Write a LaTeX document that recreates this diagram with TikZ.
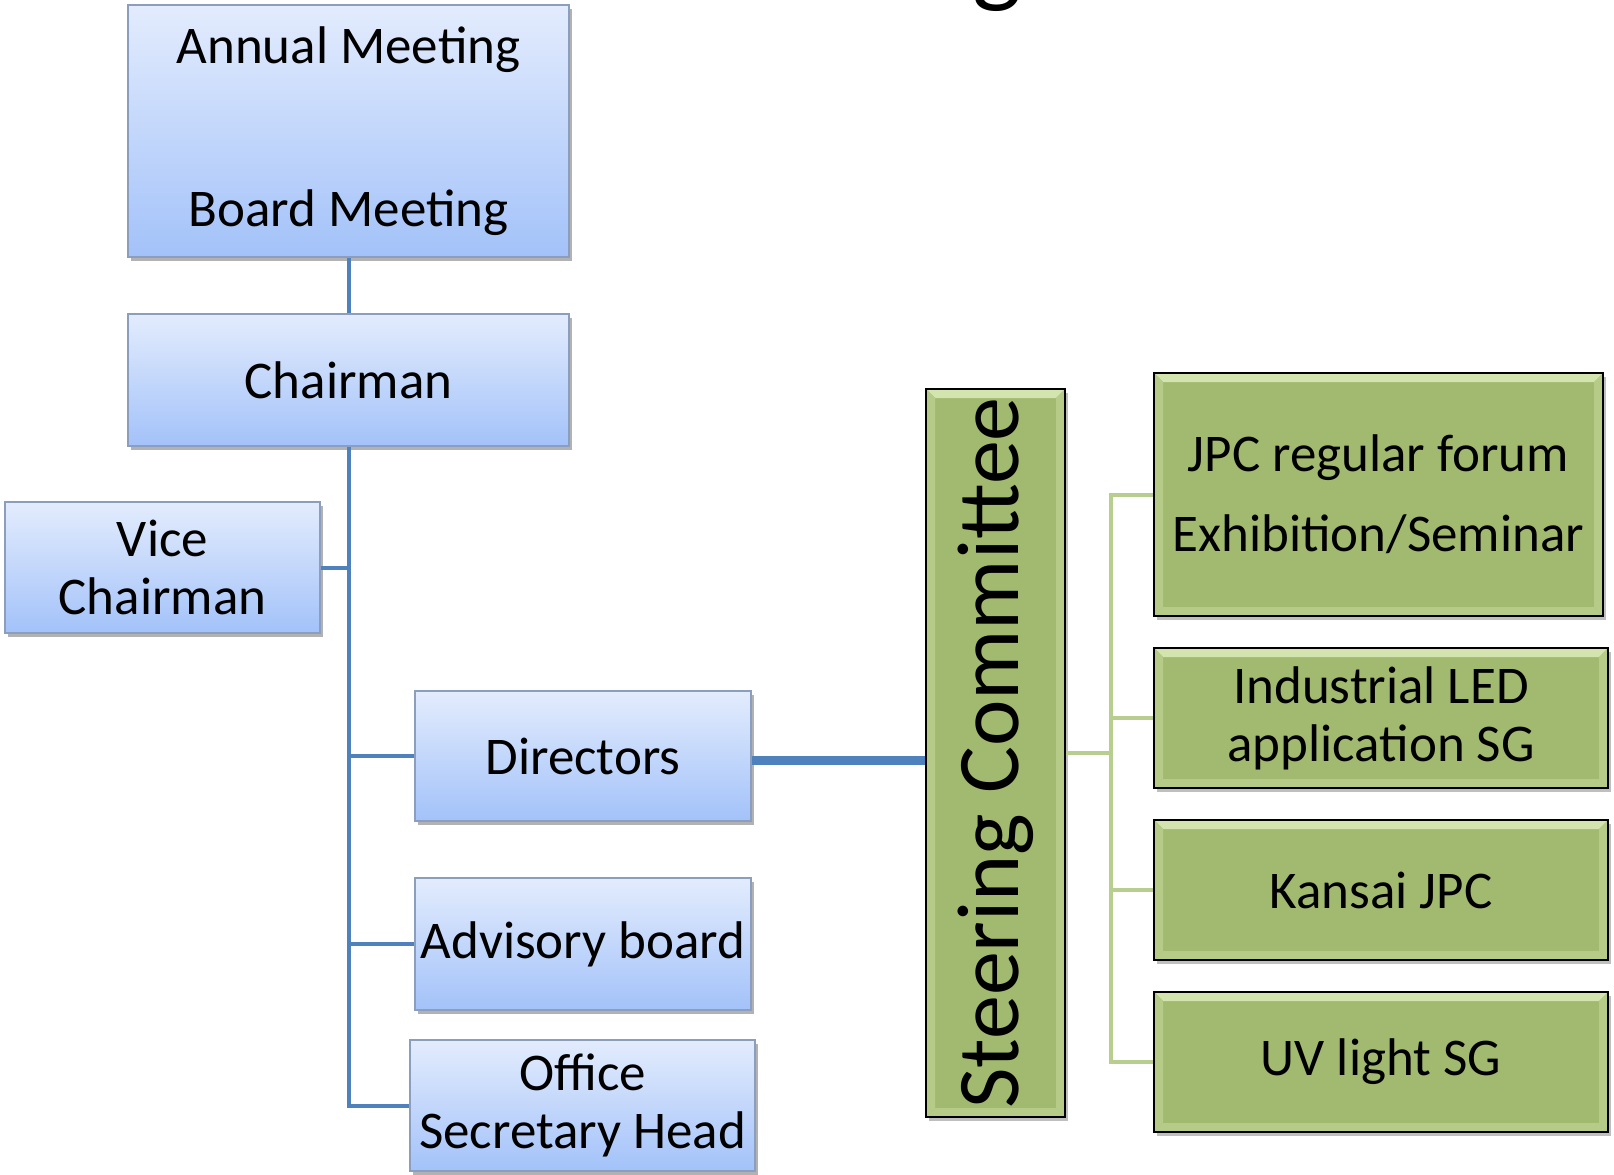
\documentclass[tikz,border=0pt]{standalone}
\usepackage{fontspec}
\setmainfont{Carlito}
\usetikzlibrary{positioning, % For easy node-relative placements
                shadows,     % For the soft box shadows
                calc,        % For the bevel corners
               }

\definecolor{blueTop}{RGB}{227,236,253}
\definecolor{blueBot}{RGB}{163,194,249}
\definecolor{blueEdge}{RGB}{140,158,190}
\definecolor{blueLine}{RGB}{79,129,189}
\definecolor{greenFill}{RGB}{162,185,112}
\definecolor{greenTop}{RGB}{212,228,175}
\definecolor{greenSide}{RGB}{182,203,136}
\definecolor{greenLine}{RGB}{184,206,142}

\tikzset{
  txt/.style={font=\fontsize{53}{58}\selectfont},
  bluebox/.style={txt, draw=blueEdge, line width=1.5pt, top color=blueTop,
    bottom color=blueBot, align=center, inner sep=0pt,
    drop shadow={shadow xshift=3pt, shadow yshift=-4pt, opacity=0.3, fill=black}},
  bevel/.style={path picture={
    \path (path picture bounding box.north west) coordinate (bnw)
          (path picture bounding box.north east) coordinate (bne)
          (path picture bounding box.south east) coordinate (bse)
          (path picture bounding box.south west) coordinate (bsw);
    \fill[greenTop] (bnw) -- (bne) -- ($(bne)+(-9pt,-9pt)$) -- ($(bnw)+(9pt,-9pt)$) -- cycle;
    \fill[greenSide] (bnw) -- ($(bnw)+(9pt,-9pt)$) -- ($(bsw)+(9pt,9pt)$) -- (bsw) -- cycle;
    \fill[greenSide] (bne) -- ($(bne)+(-9pt,-9pt)$) -- ($(bse)+(-9pt,9pt)$) -- (bse) -- cycle;
    \fill[greenSide] (bsw) -- ($(bsw)+(9pt,9pt)$) -- ($(bse)+(-9pt,9pt)$) -- (bse) -- cycle;
  }},
  greenbox/.style={txt, draw=black, line width=2pt, fill=greenFill, bevel,
    align=center, inner sep=0pt,
    drop shadow={shadow xshift=3pt, shadow yshift=-4pt, opacity=0.25, fill=black}},
  blueconn/.style={draw=blueLine, line width=4pt},
  greenconn/.style={draw=greenLine, line width=4pt},
}

\begin{document}
\begin{tikzpicture}[x=1pt, y=-1pt] % pixel coordinates, y downwards
  \useasboundingbox (0,0) rectangle (1614,1175);
  \clip (0,0) rectangle (1614,1175);

  \node[anchor=base, font=\fontsize{105}{105}\selectfont] (title) at (997,-6) {g};

  % left column
  \node[bluebox, minimum width=441pt, minimum height=252pt] (meet) at (348.5,131)
    {Annual Meeting\\[105pt]Board Meeting};
  \node[bluebox, minimum width=441pt, minimum height=132pt] (chair) at (348.5,380) {Chairman};
  \node[bluebox, minimum width=315pt, minimum height=131pt] (vice) at (162.5,567.5) {Vice\\Chairman};
  \node[bluebox, minimum width=336pt, minimum height=130pt] (dir) at (583,756) {Directors};
  \node[bluebox, minimum width=336pt, minimum height=132pt] (adv) at (583,944) {Advisory board};
  \node[bluebox, minimum width=345pt, minimum height=131pt] (office) at (582.5,1105.5)
    {Office\\Secretary Head};

  % right part
  \node[greenbox, minimum width=139pt, minimum height=728pt] (steer) at (995.5,753)
    {\rotatebox{90}{\fontsize{88}{92}\selectfont Steering Committee}};
  \node[greenbox, minimum width=449pt, minimum height=243pt] (jpc) at (1378.5,494.5)
    {JPC regular forum\\[22pt]Exhibition/Seminar};
  \node[greenbox, minimum width=454pt, minimum height=140pt] (led) at (1381,718)
    {Industrial LED\\application SG};
  \node[greenbox, minimum width=454pt, minimum height=140pt] (kansai) at (1381,890) {Kansai JPC};
  \node[greenbox, minimum width=454pt, minimum height=140pt] (uv) at (1381,1062) {UV light SG};

  % connectors
  \draw[blueconn] (meet) -- (chair);
  \draw[blueconn] (chair.south) |- (office.west);
  \draw[blueconn] (vice.east) -- (vice.east -| chair.south);
  \draw[blueconn] (dir.west) -- (dir.west -| chair.south);
  \draw[blueconn] (adv.west) -- (adv.west -| chair.south);
  \draw[blueconn, line width=9pt] ([yshift=-4pt]dir.east) -- ([yshift=-4pt]dir.east -| steer.west);

  \draw[greenconn] (steer.east) -- ++(45,0) coordinate (gbus);
  \draw[greenconn] (jpc.west) -| (gbus) |- (uv.west);
  \draw[greenconn] (led.west) -- (led.west -| gbus);
  \draw[greenconn] (kansai.west) -- (kansai.west -| gbus);
\end{tikzpicture}
\end{document}
